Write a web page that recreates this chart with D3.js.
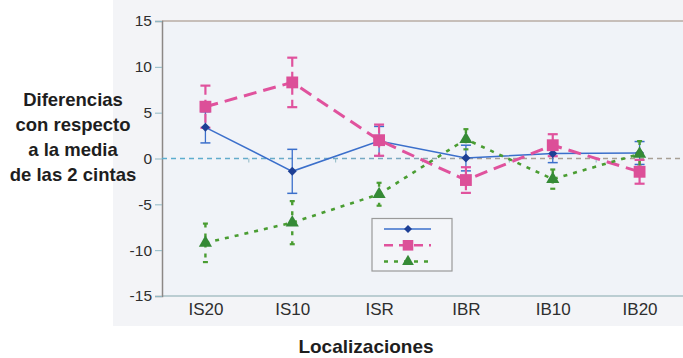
<!DOCTYPE html>
<html>
<head>
<meta charset="utf-8">
<script src="https://cdn.jsdelivr.net/npm/d3@7"></script>
<style>
  html, body { margin: 0; padding: 0; background: #ffffff; }
  svg { display: block; }
  text { font-family: "Liberation Sans", Arial, sans-serif; }
</style>
</head>
<body>
<svg id="chart" width="683" height="358"></svg>
<script>
// ---- data ----
const categories = ["IS20", "IS10", "ISR", "IBR", "IB10", "IB20"];
const serieA = [3.4, -1.4, 1.9, 0.05, 0.55, 0.6];
const serieAErr = [1.7, 2.4, 1.6, 1.4, 1.0, 1.25];
const serieB = [5.65, 8.3, 2.0, -2.35, 1.45, -1.45];
const serieBErr = [2.3, 2.7, 1.7, 1.4, 1.2, 1.3];
const serieC = [-9.2, -7.0, -3.9, 2.1, -2.25, 0.5];
const serieCErr = [2.1, 2.35, 1.25, 1.1, 1.05, 1.4];
const yTicks = [-15, -10, -5, 0, 5, 10, 15];
const yTitle = ["Diferencias", "con respecto", "a la media", "de las 2 cintas"];
const xTitle = "Localizaciones";

const svg = d3.select("#chart");
const W = 683, H = 358;
const plot = { left: 162, right: 683, top: 21, bottom: 296 };

const x = d3.scalePoint().domain(categories).range([plot.left, plot.right]).padding(0.5);
const y = d3.scaleLinear().domain([-15, 15]).range([plot.bottom, plot.top]);

// backgrounds
svg.append("rect").attr("x", 0).attr("y", 0).attr("width", W).attr("height", H).attr("fill", "#ffffff");
svg.append("rect").attr("x", 113).attr("y", 0).attr("width", W - 113).attr("height", 326).attr("fill", "#f3f4f7");
svg.append("rect").attr("x", plot.left).attr("y", plot.top).attr("width", plot.right - plot.left)
  .attr("height", plot.bottom - plot.top).attr("fill", "#f0f3f8");

// gradient for zero line
const defs = svg.append("defs");
const grad = defs.append("linearGradient").attr("id", "zg").attr("gradientUnits", "userSpaceOnUse")
  .attr("x1", plot.left).attr("x2", plot.right).attr("y1", 0).attr("y2", 0);
grad.append("stop").attr("offset", "0%").attr("stop-color", "#5aaed0");
grad.append("stop").attr("offset", "45%").attr("stop-color", "#7aa8c0");
grad.append("stop").attr("offset", "60%").attr("stop-color", "#a8a096");
grad.append("stop").attr("offset", "100%").attr("stop-color", "#a8a096");

// plot frame lines
svg.append("line").attr("x1", plot.left).attr("x2", plot.right).attr("y1", plot.top).attr("y2", plot.top)
  .attr("stroke", "#b9aca4").attr("stroke-width", 1.3);
svg.append("line").attr("x1", plot.left).attr("x2", plot.right).attr("y1", plot.bottom).attr("y2", plot.bottom)
  .attr("stroke", "#a9c0c6").attr("stroke-width", 1.3);

// y axis
const yAxis = svg.append("g").attr("transform", `translate(${plot.left},0)`)
  .call(d3.axisLeft(y).tickValues(yTicks).tickSize(7).tickPadding(3).tickFormat(d3.format("d")));
yAxis.select(".domain").attr("stroke", "#8c8886").attr("stroke-width", 1.5);
yAxis.selectAll(".tick line").attr("stroke", "#8fb8c4").attr("stroke-width", 1);
yAxis.selectAll(".tick text").attr("fill", "#2e2e2e").style("font-size", "15.5px")
  .text(d => d < 0 ? "-" + Math.abs(d) : d);

// x axis labels
const xAxis = svg.append("g").attr("transform", `translate(0,${plot.bottom})`)
  .call(d3.axisBottom(x).tickSize(0).tickPadding(7));
xAxis.select(".domain").remove();
xAxis.selectAll(".tick text").attr("fill", "#2e2e2e").style("font-size", "17px");

// zero reference line
svg.append("line").attr("x1", plot.left).attr("x2", plot.right).attr("y1", y(0)).attr("y2", y(0))
  .attr("stroke", "url(#zg)").attr("stroke-width", 1.3).attr("stroke-dasharray", "5,4");
// small tick marks at band boundaries on the zero line
const step = x.step();
svg.append("g").selectAll("line").data(categories.slice(0, -1)).join("line")
  .attr("x1", d => x(d) + step / 2).attr("x2", d => x(d) + step / 2)
  .attr("y1", y(0)).attr("y2", y(0) + 4)
  .attr("stroke", "#8fb8c4").attr("stroke-width", 1);

// titles
const yt = svg.append("text").attr("text-anchor", "middle").attr("font-weight", "bold")
  .attr("fill", "#1e1e1e").style("font-size", "18.5px");
yTitle.forEach((t, i) => {
  yt.append("tspan").attr("x", 73).attr("y", 106 + i * 25).text(t);
});
svg.append("text").attr("x", 366).attr("y", 353).attr("text-anchor", "middle")
  .attr("font-weight", "bold").attr("fill", "#1e1e1e").style("font-size", "19px").text(xTitle);

// series config
const series = [
  { vals: serieA, errs: serieAErr, line: "#3b6fcb", mark: "#1d3f95", width: 1.5, dash: null,
    ebWidth: 1.3, ebDash: null, cap: 10, shape: d3.symbolSquare, rot: 45, size: 40 },
  { vals: serieB, errs: serieBErr, line: "#e0529d", mark: "#dc4f98", width: 3, dash: "13,7",
    ebWidth: 2.2, ebDash: "9,5", cap: 10, shape: d3.symbolSquare, rot: 0, size: 140 },
  { vals: serieC, errs: serieCErr, line: "#4a9d32", mark: "#358a36", width: 2.6, dash: "4,6",
    ebWidth: 2.4, ebDash: "4,6", cap: 5, shape: d3.symbolTriangle, rot: 0, size: 75 }
];

// error bars
series.forEach(s => {
  const g = svg.append("g");
  const data = categories.map((c, i) => ({ c, v: s.vals[i], e: s.errs[i] }));
  g.selectAll("line.v").data(data).join("line").attr("class", "v")
    .attr("x1", d => x(d.c)).attr("x2", d => x(d.c))
    .attr("y1", d => y(d.v + d.e)).attr("y2", d => y(d.v - d.e))
    .attr("stroke", s.line).attr("stroke-width", s.ebWidth).attr("stroke-dasharray", s.ebDash);
  ["+", "-"].forEach(sign => {
    g.selectAll("line.c" + (sign === "+" ? "p" : "m")).data(data).join("line")
      .attr("class", "c" + (sign === "+" ? "p" : "m"))
      .attr("x1", d => x(d.c) - s.cap / 2).attr("x2", d => x(d.c) + s.cap / 2)
      .attr("y1", d => y(sign === "+" ? d.v + d.e : d.v - d.e))
      .attr("y2", d => y(sign === "+" ? d.v + d.e : d.v - d.e))
      .attr("stroke", s.line).attr("stroke-width", s.ebWidth > 2 ? 2.2 : 1.5);
  });
});

// lines
const lineGen = d3.line().x(d => x(d.c)).y(d => y(d.v));
series.forEach(s => {
  const data = categories.map((c, i) => ({ c, v: s.vals[i] }));
  svg.append("path").datum(data).attr("d", lineGen).attr("fill", "none")
    .attr("stroke", s.line).attr("stroke-width", s.width).attr("stroke-dasharray", s.dash);
});

// markers
series.forEach(s => {
  const data = categories.map((c, i) => ({ c, v: s.vals[i] }));
  svg.append("g").selectAll("path").data(data).join("path")
    .attr("transform", d => `translate(${x(d.c)},${y(d.v)}) rotate(${s.rot})`)
    .attr("d", d3.symbol().type(s.shape).size(s.size)).attr("fill", s.mark);
});

// legend
const lg = svg.append("g");
lg.append("rect").attr("x", 372).attr("y", 218.5).attr("width", 80).attr("height", 52.5)
  .attr("fill", "#f3f5f9").attr("stroke", "#9a9a9a").attr("stroke-width", 1.2);
series.forEach((s, i) => {
  const ly = 229 + i * 16.3;
  lg.append("line").attr("x1", 384).attr("x2", 431).attr("y1", ly).attr("y2", ly)
    .attr("stroke", s.line).attr("stroke-width", s.width === 1.5 ? 1.5 : 2.5)
    .attr("stroke-dasharray", s.dash ? (i === 1 ? "9,6" : "4,6") : null);
  lg.append("path").attr("transform", `translate(408,${ly}) rotate(${s.rot})`)
    .attr("d", d3.symbol().type(s.shape).size(s.size * 0.8)).attr("fill", s.mark);
});
</script>
</body>
</html>
